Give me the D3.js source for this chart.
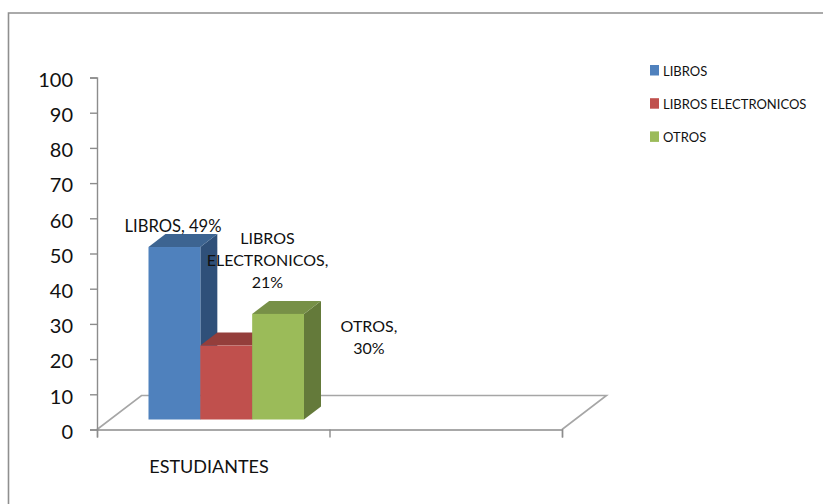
<!DOCTYPE html>
<html><head><meta charset="utf-8">
<script src="https://cdn.jsdelivr.net/npm/d3@7"></script>
<style>html,body{margin:0;padding:0;background:#fff}svg{display:block}text{font-family:Lato,"Open Sans",sans-serif;fill:#111}</style>
</head><body><svg id="c" width="823" height="504"></svg>
<script>
const seriesNames = ["LIBROS", "LIBROS ELECTRONICOS", "OTROS"];
const seriesValues = [49, 21, 30];
const seriesColors = ["#4f81bd", "#c0504d", "#9bbb59"];
const topColors = ["#3d6491", "#943e3b", "#779047"];
const sideColors = ["#2f5079", "#7b3230", "#647a3a"];
const dataLabels = [["LIBROS, 49%"], ["LIBROS", "ELECTRONICOS,", "21%"], ["OTROS,", "30%"]];
const yTicks = [0,10,20,30,40,50,60,70,80,90,100];
const categoryTicks = ["ESTUDIANTES", ""];

const svg = d3.select("#c");
const axisColor = "#8c8c8c", floorColor = "#a6a6a6";
const depthX = 44.5, depthY = 34;      // floor depth
const barDX = 17, barDY = 13;          // bar depth
const floorLift = 10;

// chart frame: only the top and left edges are inside the picture
svg.append("path").attr("d","M8.5,504V13H823").attr("fill","none")
  .attr("stroke","#8f8f8f").attr("stroke-width",1.6);

const y = d3.scaleLinear().domain([0,100]).range([429.5,77.5]);
const xCat = d3.scaleBand().domain(categoryTicks).range([97,562]);
const xBar = d3.scaleBand().domain(seriesNames).range([148.5,304]);

// floor
const x0 = xCat.range()[0], x1 = xCat.range()[1], yf = y(0);
const floorPts = [[x0,yf],[x0+depthX,yf-depthY],[x1+depthX,yf-depthY],[x1,yf]];
svg.append("path").attr("d",d3.line()(floorPts)).attr("fill","none")
  .attr("stroke",floorColor).attr("stroke-width",1.6);

// y axis
const yAxis = svg.append("g").attr("transform",`translate(${x0},0)`)
  .call(d3.axisLeft(y).tickValues(yTicks).tickSize(7).tickPadding(17));
yAxis.selectAll("line,path").attr("stroke",axisColor).attr("stroke-width",1.4);
yAxis.selectAll("text").attr("font-size",20).attr("dy","0.44em");

// x axis
const xLine = d3.scaleLinear().domain([0,2]).range([x0,x1]);
svg.append("g").attr("transform",`translate(0,${yf})`)
  .call(d3.axisBottom(xLine).tickValues([0,1,2]).tickFormat("").tickSize(8))
  .selectAll("line,path").attr("stroke",axisColor).attr("stroke-width",1.4);
svg.append("text").attr("x",209).attr("y",473).attr("text-anchor","middle")
  .attr("font-size",18).text(categoryTicks[0]);

// bars, painted left to right so later fronts cover earlier sides
const base = y(0) - floorLift;
const bars = svg.append("g").selectAll("g").data(seriesNames).join("g");
bars.each(function(name,i){
  const g = d3.select(this);
  const l = xBar(name), r = l + xBar.bandwidth(), t = y(seriesValues[i]) - floorLift;
  g.append("path").attr("fill",sideColors[i])
    .attr("d",d3.line()([[r,t],[r+barDX,t-barDY],[r+barDX,base-barDY],[r,base]]));
  g.append("path").attr("fill",topColors[i])
    .attr("d",d3.line()([[l,t],[l+barDX,t-barDY],[r+barDX,t-barDY],[r,t]]));
  g.append("rect").attr("x",l).attr("y",t).attr("width",r-l).attr("height",base-t).attr("fill",seriesColors[i]);
});

// data labels
const labelAnchors = [[173,232],[267.5,244],[369,332]];
const labelSizes = [16.6,16,16];
dataLabels.forEach((lines,i)=>{
  const t = svg.append("text").attr("text-anchor","middle").attr("font-size",labelSizes[i]);
  lines.forEach((s,j)=>t.append("tspan").attr("x",labelAnchors[i][0]).attr("y",labelAnchors[i][1]+j*22).text(s));
});

// legend
const lg = svg.append("g").selectAll("g").data(seriesNames).join("g")
  .attr("transform",(d,i)=>`translate(650,${65+i*33.2})`);
lg.append("rect").attr("width",9).attr("height",10.5).attr("fill",(d,i)=>seriesColors[i]);
lg.append("text").attr("x",13).attr("y",10.5).attr("font-size",13).text(d=>d);
</script></body></html>
